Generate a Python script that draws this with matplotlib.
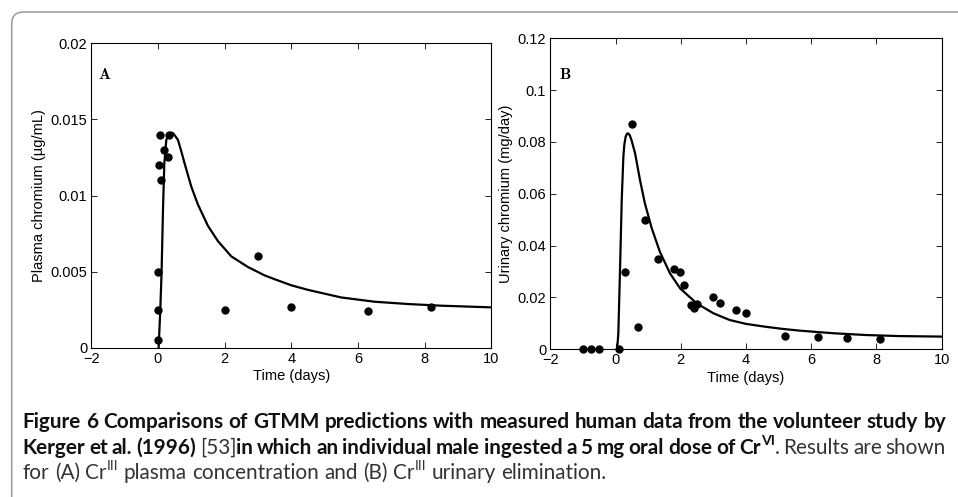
import matplotlib
matplotlib.use('Agg')
import matplotlib.pyplot as plt
from matplotlib.ticker import FuncFormatter, MultipleLocator
from matplotlib.patches import FancyBboxPatch
from matplotlib.transforms import IdentityTransform

# panel A: plasma chromium (ug/mL)
a_obs_t = [0.05, 0.32, 0.17, 0.04, 0.3, 0.09, 0.0, 0.0, 0.0, 2.0, 3.0, 4.0, 6.3, 8.2]
a_obs_c = [0.014, 0.014, 0.013, 0.012, 0.0125, 0.011, 0.005, 0.0025, 0.0005,
           0.0025, 0.006, 0.0027, 0.0024, 0.0027]
a_mod_t = [0.02, 0.07, 0.11, 0.15, 0.19, 0.25, 0.3, 0.35, 0.4, 0.45, 0.52, 0.6, 0.7, 0.8,
           1.0, 1.2, 1.5, 1.8, 2.2, 2.7, 3.2, 3.5, 4.0, 4.5, 5.5, 6.5, 7.5, 8.5, 10.0]
a_mod_c = [0.0, 0.0025, 0.0051, 0.0090, 0.0121, 0.01365, 0.0139, 0.0141, 0.01413, 0.0141,
           0.0139, 0.01365, 0.0129, 0.0121, 0.01058, 0.0094, 0.0080, 0.0070, 0.0060,
           0.0053, 0.00475, 0.0045, 0.0041, 0.0038, 0.0033, 0.00302, 0.00287, 0.00276,
           0.00265]

# panel B: urinary chromium (mg/day)
b_obs_t = [-1.0, -0.75, -0.5, 0.1, 0.3, 0.5, 0.7, 0.9, 1.3, 1.8, 1.97, 2.11, 2.3, 2.41,
           2.51, 3.0, 3.2, 3.7, 4.0, 5.2, 6.2, 7.1, 8.1]
b_obs_r = [0, 0, 0, 0, 0.030, 0.087, 0.0085, 0.050, 0.035, 0.031, 0.030, 0.025, 0.017,
           0.016, 0.0174, 0.020, 0.018, 0.015, 0.014, 0.005, 0.0048, 0.0045, 0.004]
b_mod_t = [0.05, 0.086, 0.14, 0.19, 0.24, 0.27, 0.31, 0.35, 0.39, 0.44, 0.49, 0.6, 0.75,
           0.9, 1.11, 1.36, 1.67, 1.98, 2.49, 3.0, 3.5, 4.0, 4.6, 5.1, 5.65, 6.67, 7.69,
           8.71, 10.0]
b_mod_r = [0.0, 0.0062, 0.0319, 0.0576, 0.0743, 0.0790, 0.0820, 0.0832, 0.0833, 0.0825,
           0.0807, 0.0756, 0.0653, 0.0563, 0.0467, 0.0376, 0.0293, 0.0235, 0.0177, 0.0139,
           0.0113, 0.0098, 0.0087, 0.0079, 0.0072, 0.0062, 0.0055, 0.0051, 0.0049]

cap_lines = [
    [("Figure 6 Comparisons of GTMM predictions with measured human data from the volunteer study by", 'b')],
    [("Kerger et al. (1996)", 'b'), (" [53]", 'r'),
     ("in which an individual male ingested a 5 mg oral dose of Cr", 'b'), ("VI", 'bs'),
     (". Results are shown", 'r')],
    [("for (A) Cr", 'r'), ("III", 'rs'), (" plasma concentration and (B) Cr", 'r'),
     ("III", 'rs'), (" urinary elimination.", 'r')],
]

plt.rcParams['font.family'] = ['Liberation Sans', 'DejaVu Sans']
plt.rcParams['mathtext.fontset'] = 'cm'

W, H = 958, 497
fig = plt.figure(figsize=(W / 100, H / 100), dpi=100)


def px_axes(x0, y0, x1, y1):
    return fig.add_axes([x0 / W, 1 - y1 / H, (x1 - x0) / W, (y1 - y0) / H])


def style(ax, ytop, ystep, ylabel):
    ax.set_xlim(-2, 10)
    ax.set_ylim(0, ytop)
    ax.xaxis.set_major_locator(MultipleLocator(2))
    ax.yaxis.set_major_locator(MultipleLocator(ystep))
    fmt = FuncFormatter(lambda v, p: ('%g' % round(v, 6)).replace('-', '\u2212'))
    ax.xaxis.set_major_formatter(fmt)
    ax.yaxis.set_major_formatter(fmt)
    ax.tick_params(direction='in', top=True, right=True, length=4, width=0.6,
                   labelsize=10.5, pad=3)
    for s in ax.spines.values():
        s.set_linewidth(0.8)
    ax.set_xlabel('Time (days)', fontsize=10.5, labelpad=2.5)
    ax.set_ylabel(ylabel, fontsize=10.5, labelpad=3)


axA = px_axes(91.3, 43.3, 491.3, 347.7)
axA.plot(a_mod_t, a_mod_c, color='black', lw=1.6)
axA.plot(a_obs_t, a_obs_c, 'o', color='black', ms=5, clip_on=False)
style(axA, 0.02, 0.005, 'Plasma chromium (\u00b5g/mL)')
axA.text(0.0325, 0.899, r'$\mathbf{A}$', transform=axA.transAxes, ha='center',
         va='center', fontsize=11.5)

axB = px_axes(550.3, 38.3, 941.7, 349.3)
axB.plot(b_mod_t, b_mod_r, color='black', lw=1.6)
axB.plot(b_obs_t, b_obs_r, 'o', color='black', ms=5, clip_on=False)
style(axB, 0.12, 0.02, 'Urinary chromium (mg/day)')
axB.text(0.0383, 0.885, r'$\mathbf{B}$', transform=axB.transAxes, ha='center',
         va='center', fontsize=11.5)

# rounded frame, cut by the right and bottom edges
frame = FancyBboxPatch((11.7, -20), 1010, H - 12 + 20,
                       boxstyle='round,pad=0,rounding_size=12',
                       transform=IdentityTransform(), fill=False,
                       edgecolor='#9a9a9a', lw=1.1)
fig.add_artist(frame)

# caption, drawn word by word so bold / regular / superscripts can mix
renderer = fig.canvas.get_renderer()
cap_font = ['Lato', 'DejaVu Sans']


def piece_kw(st, fs):
    kw = dict(family=cap_font, fontweight='bold' if 'b' in st else 'normal',
              color='#111111' if 'b' in st else '#333333',
              fontsize=fs * 0.68 if 's' in st else fs)
    return kw


def text_w(s, kw):
    t = fig.text(0, 0, s, **kw)
    w = t.get_window_extent(renderer).width
    t.remove()
    return w


def words_of(line):
    words = [[]]
    for text, st in line:
        for i, p in enumerate(text.split(' ')):
            if i > 0:
                words.append([])
            if p:
                words[-1].append((p, st))
    return [w for w in words if w]


def word_w(word, fs):
    return sum(text_w(p, piece_kw(st, fs)) for p, st in word)


def space_w(fs):
    kw = piece_kw('r', fs)
    return text_w('n n', kw) - text_w('nn', kw)


x_left, x_right = 22.7, 946
target = x_right - x_left
fs0 = 12.0
w1 = words_of(cap_lines[0])
nat = sum(word_w(w, fs0) for w in w1) + space_w(fs0) * (len(w1) - 1)
fs = fs0 * target / nat

baselines = [428, 454, 479]
for li, line in enumerate(cap_lines):
    words = words_of(line)
    widths = [word_w(w, fs) for w in words]
    if li < 2:
        gap = (target - sum(widths)) / (len(words) - 1)
    else:
        gap = space_w(fs)
    x = x_left
    for word, ww in zip(words, widths):
        xx = x
        for p, st in word:
            kw = piece_kw(st, fs)
            yb = H - baselines[li]
            if 's' in st:
                yb += fs * 0.42 * 100 / 72
            fig.text(xx / W, yb / H, p, ha='left', va='baseline', **kw)
            xx += text_w(p, kw)
        x += ww + gap

fig.savefig('out.png', dpi=100)
